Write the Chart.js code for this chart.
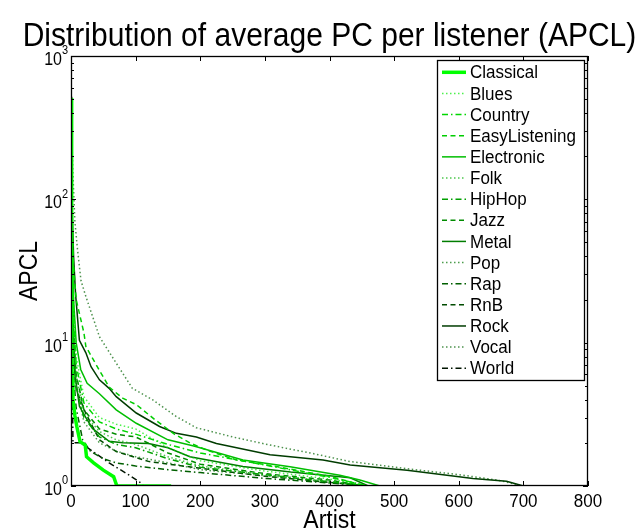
<!DOCTYPE html>
<html>
<head>
<meta charset="utf-8">
<script src="https://cdn.jsdelivr.net/npm/chart.js@4/dist/chart.umd.min.js"></script>
<style>
  html, body { margin: 0; padding: 0; background: #fff; }
  #wrap { width: 642px; height: 532px; }
</style>
</head>
<body>
<div id="wrap"><canvas id="c" width="642" height="532"></canvas></div>
<script>
// Sorted APCL (average playcount per listener) per artist, one curve per genre.
// Each pair is [artist rank, APCL].
const classical     = [[0,510],[1,9.3],[2,5.5],[3,4.0],[6,3.1],[9,2.6],[14,2.04],[22,1.93],[24,1.6],[35,1.45],[50,1.29],[66,1.16],[71,1.0],[155,1.0]];
const blues         = [[0,350],[1,80],[3,25],[8,8],[20,4.2],[44,3.0],[70,2.7],[100,2.5],[150,1.85],[200,1.5],[300,1.27],[400,1.12],[460,1.0]];
const country       = [[0,250],[1,60],[3,18],[8,7],[20,3.8],[44,2.8],[70,2.5],[100,2.3],[150,1.95],[200,1.7],[300,1.4],[400,1.15],[460,1.0]];
const easyListening = [[0,300],[1,100],[3,40],[8,20],[20,11.7],[23,9.4],[44,6.4],[59,4.9],[80,4.1],[101,3.7],[130,2.9],[160,2.3],[184,2.0],[210,1.78],[256,1.52],[320,1.36],[400,1.17],[455,1.0]];
const electronic    = [[0,400],[1,120],[2,50],[4,20],[8,10],[15,6.5],[25,5.2],[44,4.4],[70,3.4],[101,2.74],[150,2.1],[190,1.9],[266,1.52],[339,1.36],[416,1.19],[447,1.1],[478,1.0]];
const folk          = [[0,300],[1,50],[3,15],[8,6],[20,3.2],[44,2.4],[70,2.1],[100,1.95],[150,1.6],[200,1.38],[300,1.2],[400,1.08],[460,1.0]];
const hipHop        = [[0,200],[1,40],[3,12],[8,5],[20,3.0],[44,2.2],[70,1.95],[100,1.85],[150,1.55],[200,1.35],[300,1.2],[400,1.07],[460,1.0]];
const jazz          = [[0,250],[1,50],[3,14],[8,6],[20,3.4],[44,2.5],[70,2.3],[100,2.2],[150,1.7],[200,1.42],[300,1.22],[400,1.1],[455,1.0]];
const metal         = [[0,450],[1,60],[3,15],[6,6],[10,4.5],[13,3.6],[23,3.0],[34,2.5],[50,2.2],[59,2.05],[80,2.0],[120,1.98],[150,1.85],[184,1.6],[266,1.37],[340,1.25],[432,1.14],[460,1.0]];
const pop           = [[0,300],[1,50],[3,13],[8,5],[20,2.8],[44,2.0],[70,1.75],[100,1.6],[150,1.45],[200,1.3],[300,1.18],[400,1.06],[460,1.0]];
const rap           = [[0,150],[1,30],[3,6.8],[8,3.5],[18,2.1],[30,1.75],[50,1.55],[70,1.45],[100,1.38],[150,1.3],[200,1.24],[300,1.13],[400,1.05],[460,1.0]];
const rnb           = [[0,200],[1,35],[3,10],[8,4.7],[23,3.2],[44,2.1],[70,1.74],[121,1.48],[194,1.34],[300,1.17],[400,1.06],[460,1.0]];
const rock          = [[0,520],[1,200],[2,80],[4,40],[7,22],[13,10.4],[23,8.5],[31,6.8],[44,5.5],[59,4.8],[70,4.2],[101,3.23],[137,2.6],[163,2.33],[194,2.2],[225,1.98],[308,1.65],[390,1.52],[432,1.4],[520,1.29],[622,1.13],[674,1.08],[700,1.0]];
const vocal         = [[0,560],[1,300],[3,150],[6,70],[10,45],[15.5,27],[23,21],[44,11],[70,7.2],[95,4.8],[126,4.0],[163,3.05],[194,2.55],[250,2.2],[308,1.93],[370,1.7],[432,1.48],[520,1.32],[600,1.2],[660,1.1],[700,1.0]];
const world         = [[0,120],[1,20],[3,2.0],[15,2.0],[34,1.74],[59,1.45],[90,1.19],[108,1.05],[112,1.0],[150,1.0]];

const genreNames = ['Classical','Blues','Country','EasyListening','Electronic','Folk','HipHop','Jazz','Metal','Pop','Rap','RnB','Rock','Vocal','World'];
const genreCurves = [classical, blues, country, easyListening, electronic, folk, hipHop, jazz, metal, pop, rap, rnb, rock, vocal, world];
const lineKinds = ['solid','dot','dashdot','dash','solid','dot','dashdot','dash','solid','dot','dashdot','dash','solid','dot','dashdot'];
const greenLevels = [255, 235, 215, 205, 190, 175, 160, 140, 125, 115, 95, 75, 60, 100, 20];

const xTicks = [0,100,200,300,400,500,600,700,800];
const yDecades = [1,10,100,1000];
const yExponents = ['0','1','2','3'];

const FONT = '"Liberation Sans", Arial, Helvetica, sans-serif';
const TEXT_STRETCH = 1.1;   // glyphs are drawn slightly taller than wide
const DASHES = { solid: [], dot: [1.5,2.5], dash: [5,3.5], dashdot: [6,3,1.5,3] };

function genreColor(i) {
  const g = greenLevels[i];
  const alpha = lineKinds[i] === 'dot' ? 0.7 : 1;
  return `rgba(0,${g},0,${alpha})`;
}
function genreWidth(i) {
  return i === 0 ? 3.5 : 1.5;
}

function drawText(ctx, text, x, y, size, align, baseline) {
  ctx.save();
  ctx.font = `${size}px ${FONT}`;
  ctx.textAlign = align;
  ctx.textBaseline = baseline;
  ctx.fillStyle = '#000';
  ctx.translate(x, y);
  ctx.scale(1, TEXT_STRETCH);
  ctx.fillText(text, 0, 0);
  ctx.restore();
}

const datasets = genreCurves.map((pts, i) => ({
  label: genreNames[i],
  data: pts.map(p => ({ x: p[0], y: p[1] })),
  borderColor: genreColor(i),
  borderWidth: genreWidth(i),
  borderDash: DASHES[lineKinds[i]],
  pointRadius: 0,
  tension: 0,
  fill: false
}));

const frame = {
  id: 'frame',
  afterDatasetsDraw(chart) {
    const { ctx, chartArea: a, scales } = chart;
    const xs = scales.x, ys = scales.y;
    ctx.save();

    // axes box
    ctx.strokeStyle = '#000';
    ctx.lineWidth = 1.3;
    ctx.setLineDash([]);
    ctx.strokeRect(a.left + 0.5, a.top + 0.5, a.right - a.left - 1, a.bottom - a.top - 1);

    // inward ticks
    ctx.lineWidth = 1;
    ctx.beginPath();
    xTicks.forEach(v => {
      const px = Math.round(xs.getPixelForValue(v)) + 0.5;
      ctx.moveTo(px, a.bottom); ctx.lineTo(px, a.bottom - 5);
      ctx.moveTo(px, a.top); ctx.lineTo(px, a.top + 5);
    });
    yDecades.forEach((d, k) => {
      const py = Math.round(ys.getPixelForValue(d)) + 0.5;
      ctx.moveTo(a.left, py); ctx.lineTo(a.left + 5, py);
      ctx.moveTo(a.right, py); ctx.lineTo(a.right - 5, py);
      if (k < yDecades.length - 1) {
        for (let m = 2; m <= 9; m++) {
          const pm = Math.round(ys.getPixelForValue(d * m)) + 0.5;
          ctx.moveTo(a.left, pm); ctx.lineTo(a.left + 3, pm);
          ctx.moveTo(a.right, pm); ctx.lineTo(a.right - 3, pm);
        }
      }
    });
    ctx.stroke();

    // tick labels
    xTicks.forEach(v => drawText(ctx, String(v), xs.getPixelForValue(v), a.bottom + 16, 17, 'center', 'middle'));
    yDecades.forEach((d, k) => {
      const py = ys.getPixelForValue(d);
      drawText(ctx, '10', a.left - 9, py + 4, 16, 'right', 'middle');
      drawText(ctx, yExponents[k], a.left - 9, py - 5, 11, 'left', 'middle');
    });

    // axis titles
    drawText(ctx, 'Artist', (a.left + a.right) / 2, a.bottom + 35, 23, 'center', 'middle');
    ctx.save();
    ctx.translate(30, (a.top + a.bottom) / 2);
    ctx.rotate(-Math.PI / 2);
    drawText(ctx, 'APCL', 0, 0, 23, 'center', 'middle');
    ctx.restore();

    // chart title
    drawText(ctx, 'Distribution of average PC per listener (APCL)', (a.left + a.right) / 2, 46, 30, 'center', 'alphabetic');

    // legend box
    const lx = 437, ly = 60, lw = 147, lh = 320;
    ctx.fillStyle = '#fff';
    ctx.fillRect(lx, ly, lw, lh);
    ctx.strokeStyle = '#000';
    ctx.lineWidth = 1.3;
    ctx.strokeRect(lx + 0.5, ly + 0.5, lw, lh);
    const rowH = 21.14;
    genreNames.forEach((name, i) => {
      const cy = ly + 12.3 + i * rowH;
      ctx.save();
      ctx.strokeStyle = genreColor(i);
      ctx.lineWidth = genreWidth(i);
      ctx.setLineDash(DASHES[lineKinds[i]]);
      ctx.beginPath();
      ctx.moveTo(lx + 5, cy);
      ctx.lineTo(lx + 29, cy);
      ctx.stroke();
      ctx.restore();
      drawText(ctx, name, lx + 33, cy + 1, 17, 'left', 'middle');
    });

    ctx.restore();
  }
};

new Chart(document.getElementById('c'), {
  type: 'line',
  data: { datasets },
  options: {
    responsive: false,
    animation: false,
    devicePixelRatio: 1,
    layout: { padding: { left: 71, right: 54, top: 56, bottom: 46 } },
    plugins: { legend: { display: false }, title: { display: false }, tooltip: { enabled: false } },
    scales: {
      x: { type: 'linear', min: 0, max: 800, display: false },
      y: { type: 'logarithmic', min: 1, max: 1000, display: false }
    }
  },
  plugins: [frame]
});
</script>
</body>
</html>
